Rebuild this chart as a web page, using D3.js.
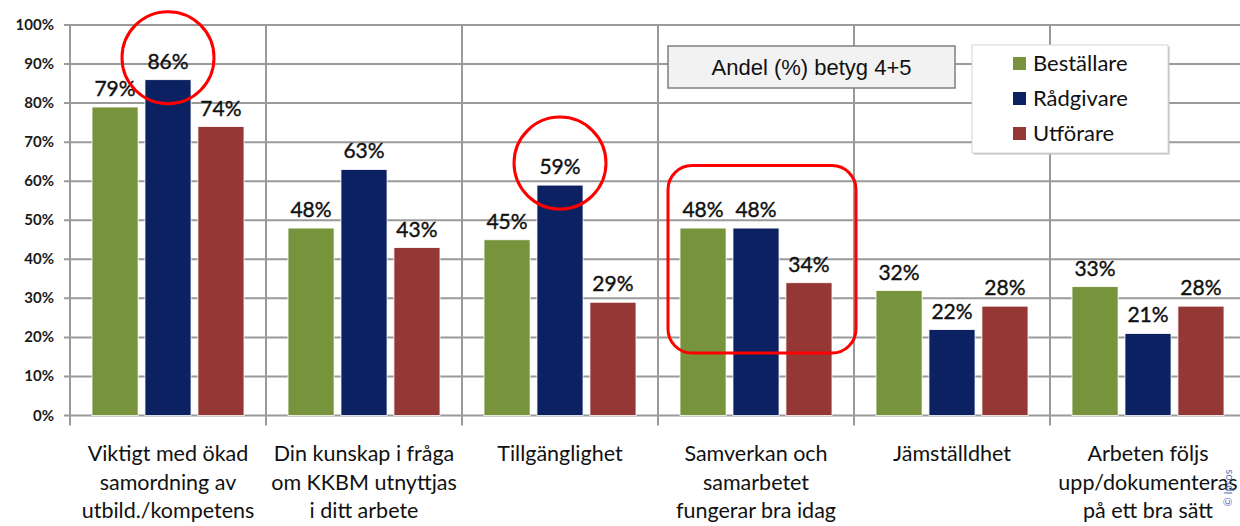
<!DOCTYPE html>
<html>
<head>
<meta charset="utf-8">
<script src="https://cdn.jsdelivr.net/npm/d3@7"></script>
<style>
  body { margin: 0; background: #fff; }
  svg { display: block; }
</style>
</head>
<body>
<div id="chart"></div>
<script>
// Data
const categories = [
    ['Viktigt med ökad', 'samordning av', 'utbild./kompetens'],
    ['Din kunskap i fråga', 'om KKBM utnyttjas', 'i ditt arbete'],
    ['Tillgänglighet'],
    ['Samverkan och', 'samarbetet', 'fungerar bra idag'],
    ['Jämställdhet'],
    ['Arbeten följs', 'upp/dokumenteras', 'på ett bra sätt']
];
const seriesNames = ['Beställare', 'Rådgivare', 'Utförare'];
const bestallare = [0.79, 0.48, 0.45, 0.48, 0.32, 0.33];
const radgivare  = [0.86, 0.63, 0.59, 0.48, 0.22, 0.21];
const utforare   = [0.74, 0.43, 0.29, 0.34, 0.28, 0.28];
const yTicks = [0, 0.1, 0.2, 0.3, 0.4, 0.5, 0.6, 0.7, 0.8, 0.9, 1.0];
const boxTitle = 'Andel (%) betyg 4+5';

const colors = ['#77933c', '#0b2161', '#953735'];
const allSeries = [bestallare, radgivare, utforare];

const width = 1240;
const height = 526;
const plotLeft = 70;
const groupStep = 196;

const svg = d3.select('#chart')
    .append('svg')
    .attr('width', width)
    .attr('height', height);

// Scales
const x0 = d3.scaleBand()
    .domain(d3.range(categories.length))
    .range([plotLeft, plotLeft + groupStep * categories.length])
    .padding(0);

const x1 = d3.scaleBand()
    .domain(seriesNames)
    .range([22, groupStep - 22])
    .paddingInner(0.13)
    .paddingOuter(0);

const y = d3.scaleLinear()
    .domain([0, 1])
    .range([415.5, 25]);

const gridColor = '#9a9a9a';

// Horizontal gridlines
svg.append('g')
    .selectAll('line')
    .data(yTicks)
    .join('line')
    .attr('x1', plotLeft - 6)
    .attr('x2', width)
    .attr('y1', d => y(d))
    .attr('y2', d => y(d))
    .attr('stroke', gridColor)
    .attr('stroke-width', 2);

// Vertical gridlines at category boundaries
const boundaries = d3.range(categories.length + 1).map(i => plotLeft + i * groupStep);
svg.append('g')
    .selectAll('line')
    .data(boundaries)
    .join('line')
    .attr('x1', d => d)
    .attr('x2', d => d)
    .attr('y1', y(1))
    .attr('y2', y(0) + 10)
    .attr('stroke', gridColor)
    .attr('stroke-width', 2);

// Y tick labels
svg.append('g')
    .selectAll('text')
    .data(yTicks)
    .join('text')
    .attr('x', 54)
    .attr('y', d => y(d) + 5)
    .attr('text-anchor', 'end')
    .attr('font-family', 'Lato, sans-serif')
    .attr('font-weight', 'bold')
    .attr('font-size', 15)
    .attr('fill', '#1a1a1a')
    .text(d3.format('.0%'));

// Bars
const groups = svg.append('g')
    .selectAll('g')
    .data(categories)
    .join('g')
    .attr('transform', (d, i) => `translate(${x0(i)},0)`);

groups.selectAll('rect')
    .data((d, i) => seriesNames.map((s, j) => ({ s, j, v: allSeries[j][i] })))
    .join('rect')
    .attr('x', d => x1(d.s))
    .attr('y', d => y(d.v))
    .attr('width', x1.bandwidth())
    .attr('height', d => y(0) - y(d.v))
    .attr('fill', d => colors[d.j])
    .attr('stroke', '#ffffff')
    .attr('stroke-width', 0.8);

// Value labels
groups.selectAll('text.val')
    .data((d, i) => seriesNames.map((s, j) => ({ s, j, v: allSeries[j][i] })))
    .join('text')
    .attr('class', 'val')
    .attr('x', d => x1(d.s) + x1.bandwidth() / 2)
    .attr('y', d => y(d.v) - 11)
    .attr('text-anchor', 'middle')
    .attr('font-family', 'Lato, sans-serif')
    .attr('font-size', 21)
    .attr('fill', '#111')
    .attr('stroke', '#111')
    .attr('stroke-width', 0.4)
    .text(d => d3.format('.0%')(d.v));

// Category labels
groups.append('text')
    .attr('x', groupStep / 2)
    .attr('y', 461)
    .attr('text-anchor', 'middle')
    .attr('font-family', 'Lato, sans-serif')
    .attr('font-size', 21.5)
    .attr('fill', '#111')
    .selectAll('tspan')
    .data(d => d)
    .join('tspan')
    .attr('x', groupStep / 2)
    .attr('dy', (d, i) => i === 0 ? 0 : 28.5)
    .text(d => d);

// Title box
svg.append('rect')
    .attr('x', 668)
    .attr('y', 46)
    .attr('width', 287)
    .attr('height', 42)
    .attr('fill', '#f2f2f2')
    .attr('stroke', '#7f7f7f')
    .attr('stroke-width', 1.5);
svg.append('text')
    .attr('x', 668 + 287 / 2)
    .attr('y', 75)
    .attr('text-anchor', 'middle')
    .attr('font-family', '"Liberation Sans", Arial, sans-serif')
    .attr('font-size', 22)
    .attr('fill', '#111')
    .text(boxTitle);

// Legend
const legend = svg.append('g').attr('transform', 'translate(972,45)');
legend.append('rect')
    .attr('x', 1.5)
    .attr('y', 1.5)
    .attr('width', 196)
    .attr('height', 108)
    .attr('fill', '#bdbdbd');
legend.append('rect')
    .attr('width', 196)
    .attr('height', 108)
    .attr('fill', '#ffffff')
    .attr('stroke', '#d6d6d6')
    .attr('stroke-width', 1);
const legendItems = legend.selectAll('g')
    .data(seriesNames)
    .join('g')
    .attr('transform', (d, i) => `translate(0,${18 + i * 35})`);
legendItems.append('rect')
    .attr('x', 41)
    .attr('y', -6)
    .attr('width', 13)
    .attr('height', 13)
    .attr('fill', (d, i) => colors[i]);
legendItems.append('text')
    .attr('x', 61)
    .attr('y', 8)
    .attr('font-family', 'Lato, sans-serif')
    .attr('font-size', 22)
    .attr('fill', '#111')
    .text(d => d);

// Red highlight annotations
const markCircle = (cat, series) => {
    const v = allSeries[seriesNames.indexOf(series)][cat];
    svg.append('circle')
        .attr('cx', x0(cat) + x1(series) + x1.bandwidth() / 2)
        .attr('cy', y(v) - 22)
        .attr('r', 46)
        .attr('fill', 'none')
        .attr('stroke', '#ff0000')
        .attr('stroke-width', 3);
};
markCircle(0, 'Rådgivare');
markCircle(2, 'Rådgivare');

svg.append('rect')
    .attr('x', x0(3) + 10)
    .attr('y', y(0.64))
    .attr('width', groupStep - 8)
    .attr('height', y(0.16) - y(0.64))
    .attr('rx', 24)
    .attr('fill', 'none')
    .attr('stroke', '#ff0000')
    .attr('stroke-width', 3);

// Copyright
svg.append('text')
    .attr('transform', 'translate(1232,488) rotate(-90)')
    .attr('text-anchor', 'middle')
    .attr('font-family', 'Lato, sans-serif')
    .attr('font-size', 11)
    .attr('fill', '#5a78b4')
    .text('© Ipsos');
</script>
</body>
</html>
